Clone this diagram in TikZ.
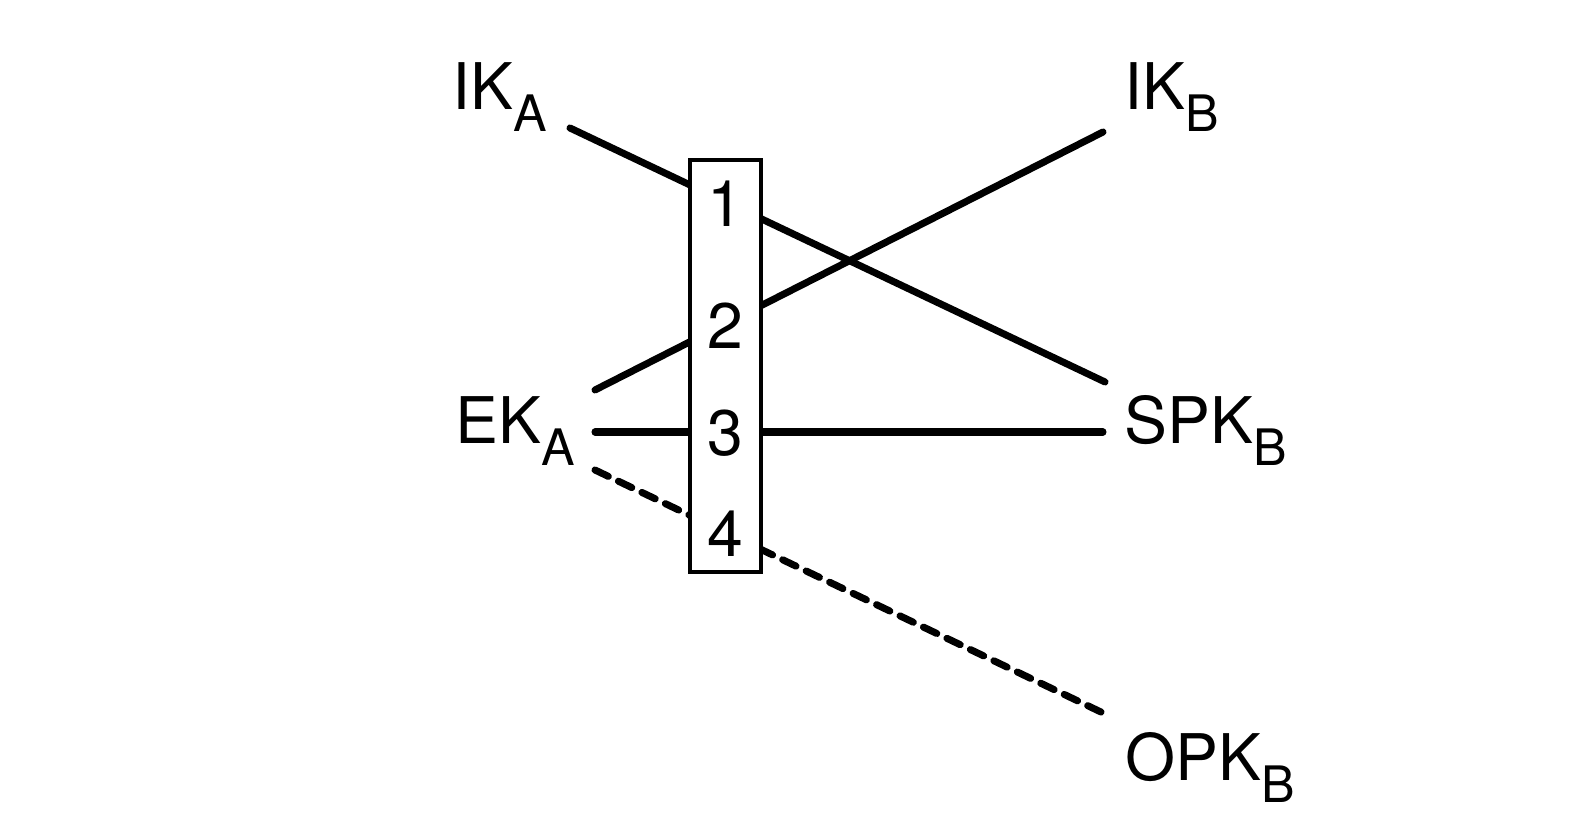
\documentclass[tikz,border=0pt]{standalone}
\usepackage{fontspec}
\setmainfont{TeX Gyre Heros}
\usetikzlibrary{positioning}
\newcommand{\keysub}[1]{\raisebox{-6pt}{\fontsize{14.3}{16}\selectfont #1}}
\tikzset{
    keylabel/.style={inner sep=0pt, anchor=base west, font=\fontsize{18.3}{22}\selectfont},
    digit/.style={inner sep=0pt, anchor=base, font=\fontsize{18.3}{22}\selectfont},
    link/.style={line width=2pt, line cap=round},
    optlink/.style={link, dash pattern=on 4.2pt off 3.2pt},
    mixbox/.style={draw, line width=1.1pt, fill=white, inner sep=0pt, minimum width=0.715cm, minimum height=4.12cm}
}
\begin{document}
\begin{tikzpicture}
            \useasboundingbox (0,0) rectangle (15.92,8.34);
            %Keys
            \node[keylabel] (IKA) at (4.52,7.24) {IK\keysub{A}};
            \node[keylabel] (EKA) at (4.55,3.90) {EK\keysub{A}};
            \node[keylabel] (IKB) at (11.24,7.24) {IK\keysub{B}};
            \node[keylabel] (SPKB) at (11.24,3.90) {SPK\keysub{B}};
            \node[keylabel] (OPKB) at (11.25,0.53) {OPK\keysub{B}};
            %Line ends
            \coordinate (ika) at (5.70,7.06);
            \coordinate (eka1) at (5.95,4.44);
            \coordinate (eka2) at (5.95,4.02);
            \coordinate (eka3) at (5.95,3.64);
            \coordinate (ikb) at (11.03,7.02);
            \coordinate (spkb1) at (11.05,4.52);
            \coordinate (spkb2) at (11.03,4.02);
            \coordinate (opkb) at (11.03,1.21);
            %Draw links
            \draw[link] (ika) -- (spkb1);
            \draw[link] (ikb) -- (eka1);
            \draw[link] (eka2) -- (spkb2);
            \draw[optlink] (eka3) -- (opkb);
            %Box with numbers
            \node[mixbox] (mix) at (7.255,4.68) {};
            \node[digit] (n1) at (7.255,6.07) {1};
            \node[digit] (n2) at (7.255,4.85) {2};
            \node[digit] (n3) at (7.255,3.78) {3};
            \node[digit] (n4) at (7.255,2.77) {4};
\end{tikzpicture}
\end{document}
